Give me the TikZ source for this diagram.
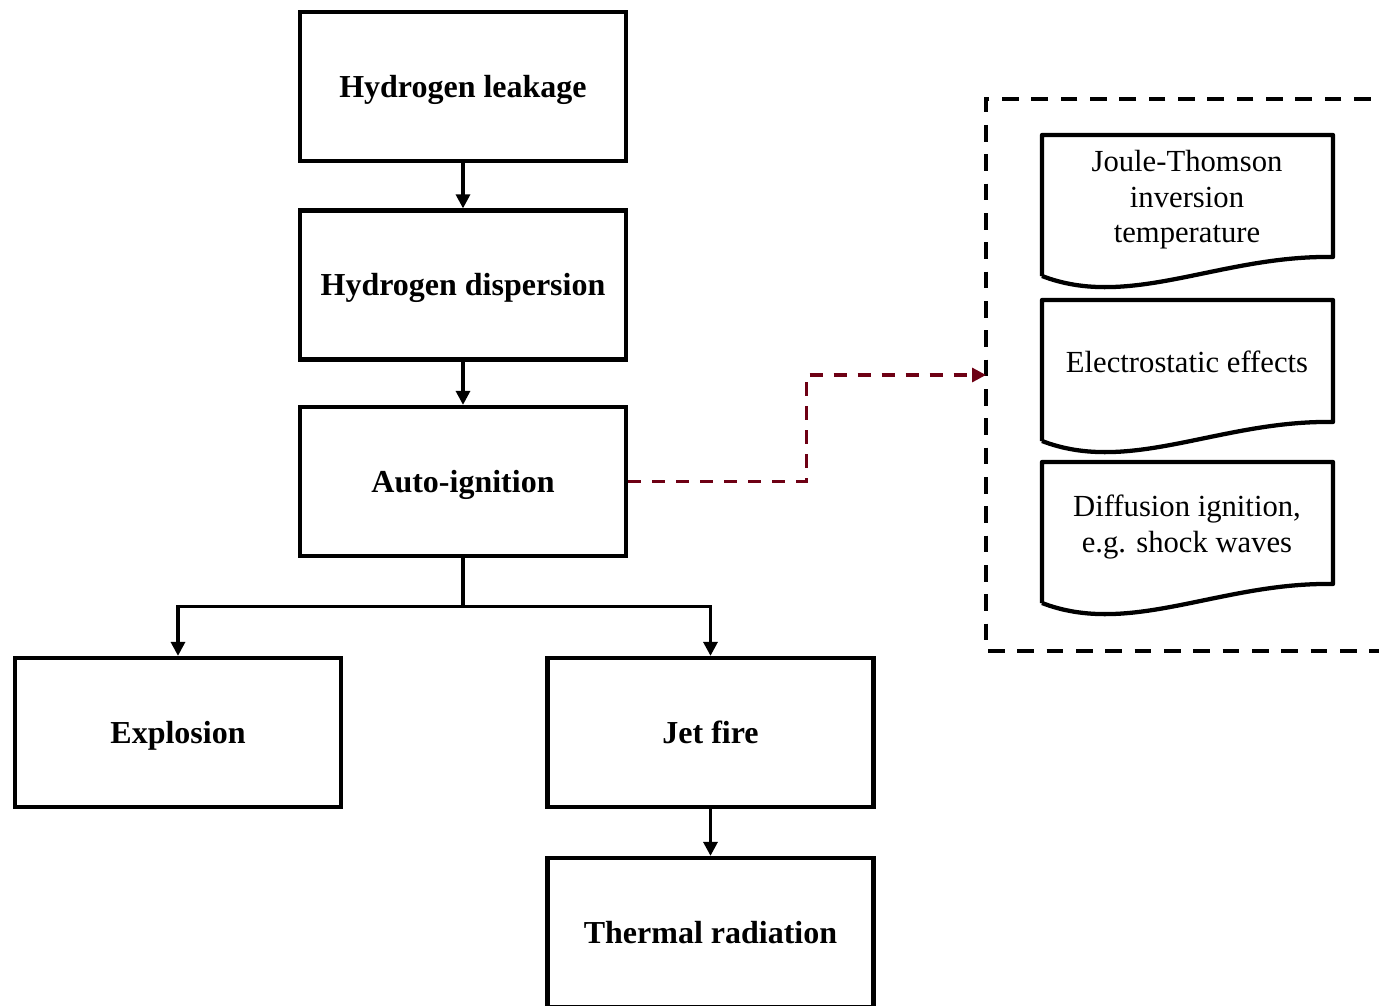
\documentclass[tikz,border=0pt]{standalone}
\usepackage{fontspec}
\setmainfont{Liberation Serif}
\usetikzlibrary{arrows.meta,calc}
\definecolor{darkred}{RGB}{110,0,20}
\begin{document}
\begin{tikzpicture}[x=0.75pt,y=-0.75pt,
  box/.style={draw,line width=3.2pt,minimum width=244.5pt,minimum height=111.75pt,
    inner sep=0pt,text height=21pt,text depth=5pt,
    font=\fontsize{24pt}{27pt}\selectfont\bfseries},
  conn/.style={line width=2.4pt,-{Triangle[length=10.5pt,width=10.5pt]}},
  doc/.style={line width=3.2pt,line join=round},
  doctext/.style={font=\fontsize{23pt}{26.6pt}\selectfont,align=center,inner sep=0pt}]
\useasboundingbox (0,0) rectangle (1379,1006);
\clip (0,0) rectangle (1379,1006);
% main chain
\node[box] (leak) at (463,86.5) {Hydrogen leakage};
\node[box] (disp) at (463,285) {Hydrogen dispersion};
\node[box] (auto) at (463,481.5) {Auto-ignition};
\node[box] (expl) at (178,732.5) {Explosion};
\node[box] (jet) at (710.5,732.5) {Jet fire};
\node[box] (therm) at (710.5,932.5) {Thermal radiation};
\draw[conn] (leak) -- (disp);
\draw[conn] (disp) -- (auto);
\draw[conn] (auto.south) -- ++(0,48) -| (expl.north);
\draw[conn] (auto.south) -- ++(0,48) -| (jet.north);
\draw[conn] (jet) -- (therm);
% dashed group box
\draw[line width=2.4pt,dash pattern=on 12.5pt off 9.5pt] (1400,99) -- (986,99) -- (986,651) -- (1400,651);
\coordinate (dbin) at (986,375);
% document shapes
\foreach \dy in {0,165,327}{
  \draw[doc,shift={(0,\dy)}] (1042,276) -- (1042,135) -- (1333,135) -- (1333,257)
     .. controls (1220,255) and (1130,310) .. (1042,276);
}
\node[doctext] (jt) at (1187,200) {Joule-Thomson\\inversion\\temperature};
\node[doctext] (es) at (1187,362) {Electrostatic effects};
\node[doctext] (di) at (1187,527) {Diffusion ignition,\\e.g. shock waves};
% red dashed connector
\draw[darkred,line width=2.4pt,dash pattern=on 10pt off 8pt,
  -{Triangle[length=10.5pt,width=10.5pt]}] (auto.east) -- ++(178,0) |- (dbin);
\end{tikzpicture}
\end{document}
